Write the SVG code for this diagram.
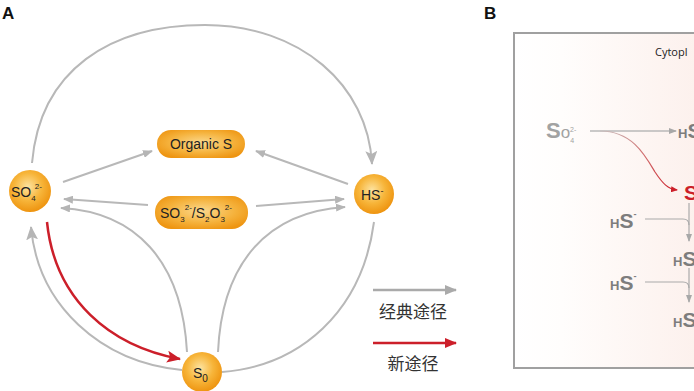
<svg xmlns="http://www.w3.org/2000/svg" width="694" height="391" viewBox="0 0 694 391">
<defs>
<radialGradient id="ball" cx="45%" cy="40%" r="60%">
<stop offset="0" stop-color="#fde3a0"/>
<stop offset="0.55" stop-color="#f7b53a"/>
<stop offset="1" stop-color="#ee9410"/>
</radialGradient>
<radialGradient id="pill" cx="50%" cy="45%" r="60%">
<stop offset="0" stop-color="#fbd88c"/>
<stop offset="0.6" stop-color="#f5b23c"/>
<stop offset="1" stop-color="#ee9512"/>
</radialGradient>
<linearGradient id="bg" x1="0" y1="0" x2="1" y2="0">
<stop offset="0" stop-color="#ffffff"/>
<stop offset="0.25" stop-color="#fffdfc"/>
<stop offset="1" stop-color="#fcf0ec"/>
</linearGradient>
<linearGradient id="redfade" gradientUnits="userSpaceOnUse" x1="600" y1="131" x2="676" y2="190">
<stop offset="0" stop-color="#c8c0c0"/>
<stop offset="0.5" stop-color="#d07070"/>
<stop offset="1" stop-color="#cc1f2a"/>
</linearGradient>
<marker id="ag" viewBox="0 0 10 8" refX="9" refY="4" markerWidth="10" markerHeight="8" markerUnits="userSpaceOnUse" orient="auto">
<path d="M0,0 L10,4 L0,8 z" fill="#b5b5b5"/>
</marker>
<marker id="agL" viewBox="0 0 14 12" refX="13" refY="6" markerWidth="14" markerHeight="12" markerUnits="userSpaceOnUse" orient="auto">
<path d="M0,0 L14,6 L0,12 L3,6 z" fill="#b5b5b5"/>
</marker>
<marker id="ar" viewBox="0 0 14 12" refX="13" refY="6" markerWidth="14" markerHeight="12" markerUnits="userSpaceOnUse" orient="auto">
<path d="M0,0 L14,6 L0,12 L3,6 z" fill="#cc1f2a"/>
</marker>
<marker id="arLeg" viewBox="0 0 12 10" refX="11" refY="5" markerWidth="12" markerHeight="10" markerUnits="userSpaceOnUse" orient="auto">
<path d="M0,0 L12,5 L0,10 z" fill="#cc1f2a"/>
</marker>
<marker id="agLeg" viewBox="0 0 12 10" refX="11" refY="5" markerWidth="12" markerHeight="10" markerUnits="userSpaceOnUse" orient="auto">
<path d="M0,0 L12,5 L0,10 z" fill="#aaaaaa"/>
</marker>
<marker id="asg" viewBox="0 0 8 6" refX="7" refY="3" markerWidth="8" markerHeight="6" markerUnits="userSpaceOnUse" orient="auto">
<path d="M0,0 L8,3 L0,6 z" fill="#a8a8a8"/>
</marker>
<marker id="asr" viewBox="0 0 7 6" refX="6" refY="3" markerWidth="7" markerHeight="6" markerUnits="userSpaceOnUse" orient="auto">
<path d="M0,0 L7,3 L0,6 z" fill="#cc1f2a"/>
</marker>
<style>
.lbl{font-family:"Liberation Sans",Arial,sans-serif;font-weight:bold;font-size:17px;fill:#111}
.t{font-family:"Liberation Sans",Arial,sans-serif;font-size:14px;fill:#222}
.g{fill:none;stroke:#b8b8b8;stroke-width:2}
.r{fill:none;stroke:#cc1f2a;stroke-width:2.5}
.cn{font-family:"Noto Sans CJK SC","Noto Sans CJK JP",sans-serif;font-size:17px;fill:#333}
.bS{font-family:"Liberation Sans",Arial,sans-serif;font-weight:bold;fill:#7d7d7d}
.thin{fill:none;stroke:#aaaaaa;stroke-width:1.2}
</style>
</defs>

<text class="lbl" x="2" y="19">A</text>
<text class="lbl" x="484" y="19">B</text>

<g id="connectors">
<path class="g" d="M32,163 C40,70 110,25 205,25 C300,25 368,85 372,164" marker-end="url(#agL)"/>
<path class="g" d="M63,182 L152,151" marker-end="url(#ag)"/>
<path class="g" d="M348,184 L256,151" marker-end="url(#ag)"/>
<path class="g" d="M148,205 L64,199" marker-end="url(#ag)"/>
<path class="g" d="M256,206 L344,199" marker-end="url(#ag)"/>
<path class="g" d="M187,352 C182,260 135,212 61,208" marker-end="url(#ag)"/>
<path class="g" d="M218,352 C222,262 268,212 345,207" marker-end="url(#ag)"/>
<path class="g" d="M182,370 C100,362 38,305 31,227" marker-end="url(#agL)"/>
<path class="g" d="M374,222 C362,312 300,366 222,372"/>
<path class="r" d="M47,222 C55,300 110,346 180,359" marker-end="url(#ar)"/>
<path d="M373,290 L456,290" stroke="#aaaaaa" stroke-width="2.5" marker-end="url(#agLeg)"/>
<path d="M373,343 L456,343" stroke="#cc1f2a" stroke-width="2.5" marker-end="url(#arLeg)"/>
</g>

<text class="cn" x="413" y="318" text-anchor="middle">经典途径</text>
<text class="cn" x="413" y="370" text-anchor="middle">新途径</text>

<g id="SO4">
<circle cx="30" cy="191" r="21" fill="url(#ball)"/>
<text class="t" x="11" y="197">SO<tspan font-size="8" dy="4">4</tspan><tspan font-size="8" dy="-12" dx="-1">2-</tspan></text>
</g>
<g id="HS">
<circle cx="374" cy="194" r="20" fill="url(#ball)"/>
<text class="t" x="361" y="200">HS<tspan font-size="9" dy="-6">-</tspan></text>
</g>
<g id="S0">
<circle cx="202" cy="372" r="20" fill="url(#ball)"/>
<text class="t" x="193" y="378">S<tspan font-size="10" dy="4">0</tspan></text>
</g>
<g id="OrganicS">
<rect x="157" y="130" width="88" height="28" rx="14" fill="url(#pill)"/>
<text class="t" x="201" y="149" text-anchor="middle">Organic S</text>
</g>
<g id="SO3S2O3">
<rect x="155" y="196" width="93" height="33" rx="16" fill="url(#pill)"/>
<text class="t" x="160" y="218">SO<tspan font-size="8" dy="4">3</tspan><tspan font-size="8" dy="-12">2-</tspan><tspan dy="8">/S</tspan><tspan font-size="8" dy="4">2</tspan><tspan dy="-4">O</tspan><tspan font-size="8" dy="4">3</tspan><tspan font-size="8" dy="-12">2-</tspan></text>
</g>

<g id="panelB">
<rect x="514" y="33" width="190" height="335" fill="url(#bg)" stroke="#a0a0a0" stroke-width="2"/>
<text x="655" y="56" font-family="'Open Sans','Liberation Sans',sans-serif" font-size="11" fill="#222">Cytopl</text>
<text class="bS" x="546" y="138" font-size="22" style="fill:#a2a2a2">S<tspan font-size="17" font-weight="normal">o</tspan><tspan font-size="7" dy="5" font-weight="normal">4</tspan><tspan font-size="7" dy="-11" dx="-4" font-weight="normal">2-</tspan></text>
<path d="M590,131 L676,131" stroke="#b8b8b8" stroke-width="1.5" marker-end="url(#asg)"/>
<path d="M600,131 C632,131 645,155 655,172 C663,184 668,189 677,190" fill="none" stroke="url(#redfade)" stroke-width="1.2" marker-end="url(#asr)"/>
<text class="bS" x="678" y="138"><tspan font-size="13">H</tspan><tspan font-size="21">S</tspan></text>
<text class="bS" x="684" y="200" font-size="21" style="fill:#cc1f2a">S</text>

<text class="bS" x="610" y="228"><tspan font-size="13">H</tspan><tspan font-size="21">S</tspan><tspan font-size="9" dy="-11">-</tspan></text>
<path class="thin" d="M645,219 L683,219 Q689,219 689,225"/>
<path class="thin" d="M689,203 L689,241" marker-end="url(#asg)"/>
<text class="bS" x="673" y="266"><tspan font-size="13">H</tspan><tspan font-size="21">S</tspan></text>

<text class="bS" x="610" y="290"><tspan font-size="13">H</tspan><tspan font-size="21">S</tspan><tspan font-size="9" dy="-11">-</tspan></text>
<path class="thin" d="M645,282 L683,282 Q689,282 689,288"/>
<path class="thin" d="M689,268 L689,302" marker-end="url(#asg)"/>
<text class="bS" x="673" y="327"><tspan font-size="13">H</tspan><tspan font-size="21">S</tspan></text>
</g>
</svg>
